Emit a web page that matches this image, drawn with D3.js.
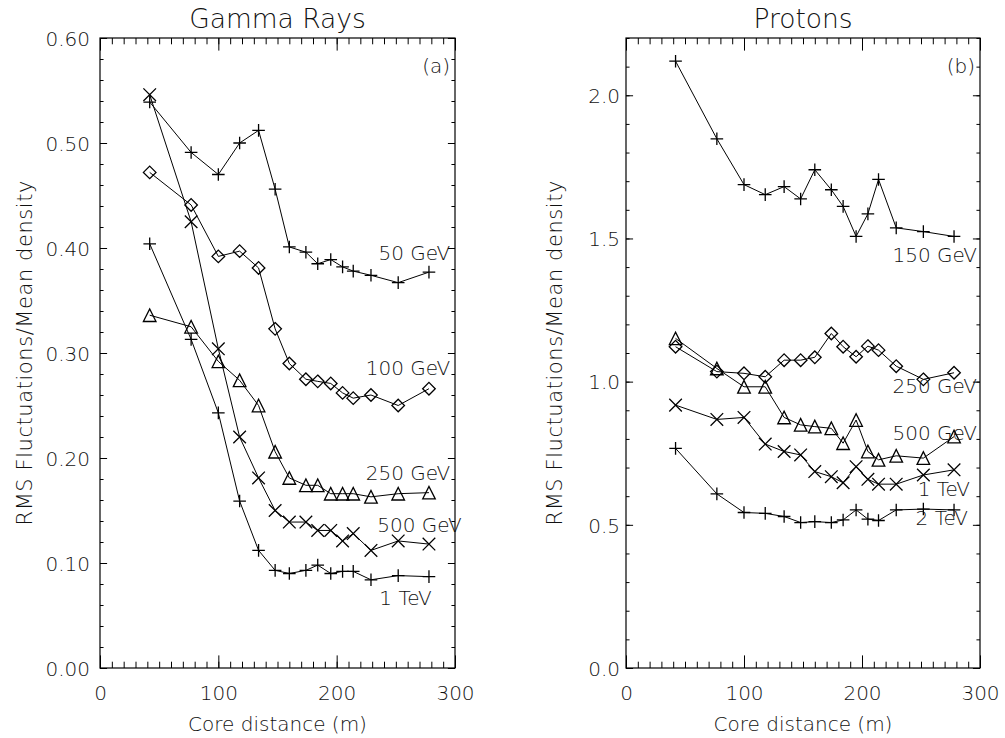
<!DOCTYPE html>
<meta charset="utf-8">
<style>
body { margin: 0; padding: 0; background: #fff; }
svg { display: block; }
text { font-family: "DejaVu Sans", "Liberation Sans", sans-serif; font-weight: 200; fill: #111; }
.frame { fill: none; stroke: #000; stroke-width: 1.2; }
.tick line { stroke: #000; stroke-width: 1; }
.series { fill: none; stroke: #000; stroke-width: 1; }
.mark { fill: none; stroke: #000; stroke-width: 1.3; }
</style>
<body>
<svg id="chart" width="1005" height="738"></svg>
<script src="https://cdn.jsdelivr.net/npm/d3@7"></script>
<script>

// core distance (m), shared by every curve
var distance = [42, 77, 100, 118, 134, 148, 160, 174, 184, 195, 205, 214, 229, 252, 278];

// (a) gamma rays
var gamma50  = [0.539, 0.491, 0.470, 0.500, 0.512, 0.456, 0.401, 0.396, 0.385, 0.389, 0.382, 0.378, 0.374, 0.367, 0.377];
var gamma100 = [0.472, 0.441, 0.392, 0.397, 0.381, 0.323, 0.290, 0.275, 0.273, 0.271, 0.262, 0.257, 0.260, 0.250, 0.266];
var gamma250 = [0.336, 0.325, 0.292, 0.274, 0.250, 0.206, 0.181, 0.174, 0.174, 0.166, 0.166, 0.166, 0.163, 0.166, 0.167];
var gamma500 = [0.546, 0.425, 0.304, 0.220, 0.181, 0.150, 0.139, 0.139, 0.131, 0.131, 0.121, 0.128, 0.112, 0.121, 0.118];
var gamma1TeV = [0.404, 0.313, 0.243, 0.159, 0.112, 0.093, 0.090, 0.093, 0.098, 0.090, 0.092, 0.092, 0.084, 0.088, 0.087];

// (b) protons
var proton150 = [2.119, 1.848, 1.688, 1.653, 1.681, 1.638, 1.740, 1.670, 1.612, 1.507, 1.586, 1.706, 1.537, 1.524, 1.507];
var proton250 = [1.122, 1.035, 1.029, 1.017, 1.075, 1.075, 1.085, 1.168, 1.122, 1.087, 1.124, 1.110, 1.054, 1.008, 1.031];
var proton500 = [1.151, 1.046, 0.982, 0.982, 0.875, 0.849, 0.843, 0.837, 0.785, 0.866, 0.756, 0.727, 0.741, 0.733, 0.808];
var proton1TeV = [0.918, 0.868, 0.875, 0.782, 0.756, 0.744, 0.686, 0.668, 0.647, 0.703, 0.659, 0.642, 0.642, 0.674, 0.692];
var proton2TeV = [0.767, 0.608, 0.543, 0.540, 0.529, 0.508, 0.511, 0.508, 0.517, 0.552, 0.520, 0.515, 0.552, 0.555, 0.552];

var gammaTicks = [0, 0.1, 0.2, 0.3, 0.4, 0.5, 0.6];
var protonTicks = [0, 0.5, 1.0, 1.5, 2.0];
var xTicks = [0, 100, 200, 300];

var yTitle = "RMS Fluctuations/Mean density";
var xTitle = "Core distance (m)";

var panels = [
  {
    title: "Gamma Rays", tag: "(a)", left: 100, right: 455, yMax: 0.6,
    yTicks: gammaTicks, yMinor: 0.02, yFormat: ".2f", labelPad: 10, yTitleX: 32,
    series: [
      {name: "50 GeV",  values: gamma50,  mark: "plus",     label: [296, 0.389]},
      {name: "100 GeV", values: gamma100, mark: "diamond",  label: [296, 0.279]},
      {name: "250 GeV", values: gamma250, mark: "triangle", label: [296, 0.179]},
      {name: "500 GeV", values: gamma500, mark: "cross",    label: [305.7, 0.130]},
      {name: "1 TeV",   values: gamma1TeV, mark: "plus",    label: [280.3, 0.060]}
    ]
  },
  {
    title: "Protons", tag: "(b)", left: 626, right: 980, yMax: 2.2,
    yTicks: protonTicks, yMinor: 0.1, yFormat: ".1f", labelPad: 6, yTitleX: 562,
    series: [
      {name: "150 GeV", values: proton150, mark: "plus",     label: [297.5, 1.418]},
      {name: "250 GeV", values: proton250, mark: "diamond",  label: [297.5, 0.960]},
      {name: "500 GeV", values: proton500, mark: "triangle", label: [297.5, 0.796]},
      {name: "1 TeV",   values: proton1TeV, mark: "cross",   label: [291.5, 0.599]},
      {name: "2 TeV",   values: proton2TeV, mark: "plus",    label: [289.8, 0.500]}
    ]
  }
];

var plotTop = 38, plotBottom = 668;
var svg = d3.select("#chart");

function markPath(type) {
  var s = 6.3;
  if (type == "plus") return "M" + (-s) + ",0H" + s + "M0," + (-s) + "V" + s;
  if (type == "cross") return "M" + (-s) + "," + (-s) + "L" + s + "," + s + "M" + (-s) + "," + s + "L" + s + "," + (-s);
  if (type == "diamond") return "M0," + (-s) + "L" + s + ",0L0," + s + "L" + (-s) + ",0Z";
  if (type == "triangle") return "M" + (-s) + "," + s + "L0," + (-s) + "L" + s + "," + s + "Z";
}

function range(a, b, step) {
  var out = [];
  for (var v = a; v <= b + 1e-9; v += step) out.push(+v.toFixed(4));
  return out;
}

panels.forEach(function(p) {
  var x = d3.scaleLinear().domain([0, 300]).range([p.left, p.right]);
  var y = d3.scaleLinear().domain([0, p.yMax]).range([plotBottom, plotTop]);
  var g = svg.append("g");
  var w = p.right - p.left, h = plotBottom - plotTop;
  var xLen = h * 0.02, yLen = w * 0.02;

  var xMinor = range(0, 300, 10);
  var yMinor = range(0, p.yMax, p.yMinor);

  // minor ticks on all four sides
  g.append("g").attr("transform", "translate(0," + plotBottom + ")")
    .call(d3.axisBottom(x).tickValues(xMinor).tickSize(-xLen / 2).tickFormat(""));
  g.append("g").attr("transform", "translate(0," + plotTop + ")")
    .call(d3.axisTop(x).tickValues(xMinor).tickSize(-xLen / 2).tickFormat(""));
  g.append("g").attr("transform", "translate(" + p.left + ",0)")
    .call(d3.axisLeft(y).tickValues(yMinor).tickSize(-yLen / 2).tickFormat(""));
  g.append("g").attr("transform", "translate(" + p.right + ",0)")
    .call(d3.axisRight(y).tickValues(yMinor).tickSize(-yLen / 2).tickFormat(""));

  // major ticks
  var xb = g.append("g").attr("transform", "translate(0," + plotBottom + ")")
    .call(d3.axisBottom(x).tickValues(xTicks).tickSize(-xLen).tickFormat(d3.format("d")));
  xb.selectAll(".tick text").attr("y", 32).attr("dy", null);
  g.append("g").attr("transform", "translate(0," + plotTop + ")")
    .call(d3.axisTop(x).tickValues(xTicks).tickSize(-xLen).tickFormat(""));
  var yl = g.append("g").attr("transform", "translate(" + p.left + ",0)")
    .call(d3.axisLeft(y).tickValues(p.yTicks).tickSize(-yLen).tickFormat(d3.format(p.yFormat)));
  yl.selectAll(".tick text").attr("x", -p.labelPad).attr("dy", "0.36em");
  g.append("g").attr("transform", "translate(" + p.right + ",0)")
    .call(d3.axisRight(y).tickValues(p.yTicks).tickSize(-yLen).tickFormat(""));

  g.selectAll(".domain").remove();
  g.selectAll("g").attr("font-family", null).attr("font-size", null);
  g.selectAll(".tick text").attr("fill", null).style("font-size", "20px");

  g.append("rect").attr("class", "frame")
    .attr("x", p.left).attr("y", plotTop).attr("width", w).attr("height", h);

  // titles
  g.append("text").attr("x", (p.left + p.right) / 2).attr("y", 28)
    .attr("text-anchor", "middle").style("font-size", "26.5px").text(p.title);
  g.append("text").attr("x", (p.left + p.right) / 2).attr("y", 731)
    .attr("text-anchor", "middle").style("font-size", "20px").text(xTitle);
  g.append("text")
    .attr("transform", "translate(" + p.yTitleX + "," + (plotBottom + plotTop) / 2 + ") rotate(-90)")
    .attr("text-anchor", "middle").style("font-size", "21px")
    .attr("textLength", 345).attr("lengthAdjust", "spacing").text(yTitle);
  g.append("text").attr("x", p.right - 5).attr("y", 73)
    .attr("text-anchor", "end").style("font-size", "20px").text(p.tag);

  var line = d3.line().x(function(d, i) { return x(distance[i]); }).y(function(d) { return y(d); });

  p.series.forEach(function(s) {
    g.append("path").attr("class", "series").attr("d", line(s.values));
    g.selectAll(null).data(s.values).enter().append("path")
      .attr("class", "mark")
      .attr("transform", function(d, i) { return "translate(" + x(distance[i]) + "," + y(d) + ")"; })
      .attr("d", markPath(s.mark));
    g.append("text").attr("x", x(s.label[0])).attr("y", y(s.label[1]))
      .attr("text-anchor", "end").style("font-size", "20px").text(s.name);
  });
});

</script>
</body>
